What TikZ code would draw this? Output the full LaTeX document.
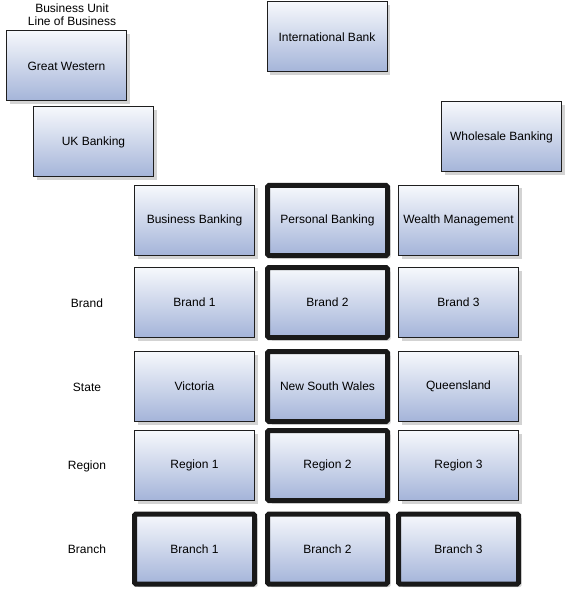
\documentclass[tikz,border=0pt]{standalone}
\usepackage{fontspec}
\setmainfont{Liberation Sans}
\usetikzlibrary{shadows}
\definecolor{boxtop}{RGB}{246,248,252}
\definecolor{boxbot}{RGB}{164,180,217}
\definecolor{edge}{RGB}{30,30,30}
\begin{document}
\begin{tikzpicture}[x=1pt,y=-1pt,
  every node/.style={font=\fontsize{12}{14}\selectfont},
  unit/.style={draw=edge, line width=1pt, top color=boxtop, bottom color=boxbot,
     minimum width=120pt, minimum height=70pt, inner sep=0pt, anchor=center,
     drop shadow={shadow xshift=3pt, shadow yshift=-3pt, opacity=0.35, fill=gray}},
  chosen/.style={unit, line width=5pt, rounded corners=1.5pt, draw=black!90},
  lbl/.style={inner sep=0pt, anchor=center}]
\useasboundingbox (0,0) rectangle (566,593);
% top area
\node[lbl] (bu) at (72,8) {Business Unit};
\node[lbl] (lob) at (72,21) {Line of Business};
\node[unit] (gw) at (66.5,66) {Great Western};
\node[unit] (uk) at (93.5,142) {UK Banking};
\node[unit] (ib) at (327,37) {International Bank};
\node[unit] (wb) at (501.5,137) {Wholesale Banking};
% row labels
\node[lbl] (lbrand) at (87,303) {Brand};
\node[lbl] (lstate) at (87,387) {State};
\node[lbl] (lregion) at (87,466) {Region};
\node[lbl] (lbranch) at (87,549) {Branch};
% row 1
\node[unit] (bb) at (194.5,220.5) {Business Banking};
\node[chosen] (pb) at (327.5,220.5) {Personal Banking};
\node[unit] (wm) at (458.5,220.5) {Wealth Management};
% row 2
\node[unit] (b1) at (194.5,302.5) {Brand 1};
\node[chosen] (b2) at (327.5,302.5) {Brand 2};
\node[unit] (b3) at (458.5,302.5) {Brand 3};
% row 3
\node[unit] (vic) at (194.5,386.5) {Victoria};
\node[chosen] (nsw) at (327.5,386.5) {New South Wales};
\node[unit] (qld) at (458.5,386.5) {Queensland};
% row 4
\node[unit] (r1) at (194.5,465.5) {Region 1};
\node[chosen] (r2) at (327.5,465.5) {Region 2};
\node[unit] (r3) at (458.5,465.5) {Region 3};
% row 5
\node[chosen] (br1) at (194.5,549) {Branch 1};
\node[chosen] (br2) at (327.5,549) {Branch 2};
\node[chosen] (br3) at (458.5,549) {Branch 3};
\end{tikzpicture}
\end{document}
